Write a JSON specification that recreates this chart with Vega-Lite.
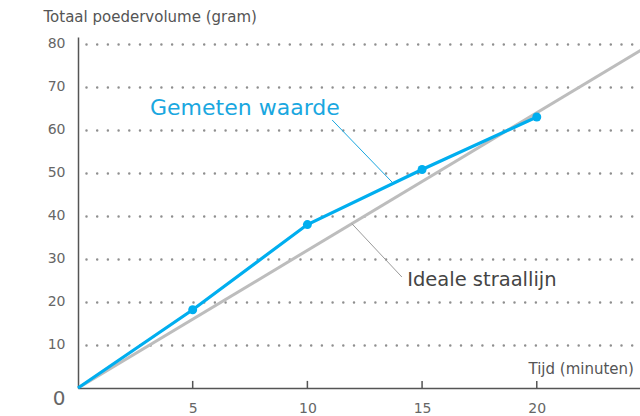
{
  "$schema": "https://vega.github.io/schema/vega-lite/v6.json",
  "autosize": {"type": "none"},
  "padding": {"left": 78, "top": 37, "right": 0, "bottom": 28},
  "width": 562,
  "height": 351,
  "background": "white",
  "config": {
    "view": {"stroke": null},
    "font": "DejaVu Sans",
    "axis": {"domainColor": "#555555", "domainWidth": 1.5, "labelColor": "#555555", "labelFont": "DejaVu Sans", "titleFont": "DejaVu Sans", "titleFontWeight": "normal", "titleColor": "#555555", "titleFontSize": 15}
  },
  "datasets": {
    "measured": [
      {"t": 0, "v": 0},
      {"t": 5, "v": 18.2},
      {"t": 10, "v": 38},
      {"t": 15, "v": 50.8},
      {"t": 20, "v": 63}
    ],
    "ideal": [
      {"t": 0, "v": 0},
      {"t": 25, "v": 80}
    ],
    "xticks": [
      {"t": 5, "v": 0, "v2": 1.65},
      {"t": 10, "v": 0, "v2": 1.65},
      {"t": 15, "v": 0, "v2": 1.65},
      {"t": 20, "v": 0, "v2": 1.65}
    ],
    "leaders": [
      {"name": "Gemeten waarde", "t": 11.08, "v": 62.3, "t2": 13.74, "v2": 47.6},
      {"name": "Ideale straallijn", "t": 11.94, "v": 38.2, "t2": 14.12, "v2": 25.8}
    ],
    "labels": [
      {"name": "Gemeten waarde", "t": 3.14, "v": 65.0},
      {"name": "Ideale straallijn", "t": 14.35, "v": 25.0}
    ]
  },
  "encoding": {
    "x": {
      "field": "t", "type": "quantitative",
      "scale": {"domain": [0, 24.5], "nice": false, "zero": true},
      "axis": {
        "values": [5, 10, 15, 20],
        "grid": false,
        "ticks": false,
        "labelPadding": 13, "labelFontSize": 14, "labelColor": "#666666",
        "title": "Tijd (minuten)",
        "titleX": 450, "titleY": -20, "titleAlign": "left", "titleBaseline": "middle", "titleAnchor": "start"
      }
    },
    "y": {
      "field": "v", "type": "quantitative",
      "scale": {"domain": [0, 81.6], "nice": false},
      "axis": {
        "values": [0, 10, 20, 30, 40, 50, 60, 70, 80],
        "ticks": false,
        "labelPadding": 13,
        "labelColor": "#666666",
        "labelFontSize": {"condition": {"test": "datum.value == 0", "value": 20}, "value": 14},
        "labelBaseline": {"condition": {"test": "datum.value == 0", "value": "top"}, "value": "middle"},
        "grid": true,
        "gridColor": "#8f8f8f",
        "gridWidth": 2.5,
        "gridCap": "round",
        "gridDash": [0, 10.7],
        "gridDashOffset": 2.7,
        "gridOpacity": {"condition": {"test": "datum.value == 0", "value": 0}, "value": 1},
        "title": "Totaal poedervolume (gram)",
        "titleAngle": 0, "titleX": -35, "titleY": -21, "titleAlign": "left", "titleBaseline": "middle", "titleAnchor": "start"
      }
    }
  },
  "layer": [
    {
      "data": {"name": "xticks"},
      "mark": {"type": "rule", "color": "#555555", "strokeWidth": 1.5},
      "encoding": {"y2": {"field": "v2"}}
    },
    {
      "data": {"name": "ideal"},
      "mark": {"type": "line", "color": "#bdbdbd", "strokeWidth": 3, "clip": true}
    },
    {
      "data": {"name": "leaders"},
      "transform": [{"filter": "datum.name == 'Ideale straallijn'"}],
      "mark": {"type": "rule", "color": "#9a9a9a", "strokeWidth": 1},
      "encoding": {"x2": {"field": "t2"}, "y2": {"field": "v2"}}
    },
    {
      "data": {"name": "leaders"},
      "transform": [{"filter": "datum.name == 'Gemeten waarde'"}],
      "mark": {"type": "rule", "color": "#1aa7e0", "strokeWidth": 1},
      "encoding": {"x2": {"field": "t2"}, "y2": {"field": "v2"}}
    },
    {
      "data": {"name": "measured"},
      "mark": {"type": "line", "color": "#00aeef", "strokeWidth": 3.2}
    },
    {
      "data": {"name": "measured"},
      "transform": [{"filter": "datum.t > 0"}],
      "mark": {"type": "point", "filled": true, "color": "#00aeef", "size": 80, "opacity": 1}
    },
    {
      "data": {"name": "labels"},
      "mark": {"type": "text", "align": "left", "baseline": "middle"},
      "encoding": {
        "text": {"field": "name"},
        "color": {"field": "name", "type": "nominal", "scale": {"domain": ["Gemeten waarde", "Ideale straallijn"], "range": ["#1aa7e0", "#444444"]}, "legend": null},
        "size": {"field": "name", "type": "nominal", "scale": {"domain": ["Gemeten waarde", "Ideale straallijn"], "range": [22, 19.5]}, "legend": null}
      }
    }
  ]
}
